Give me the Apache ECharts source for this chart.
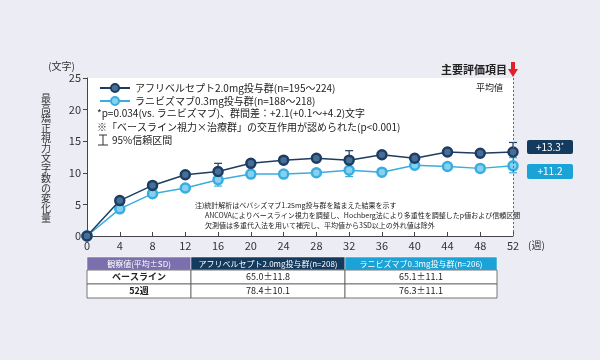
<!DOCTYPE html>
<html><head><meta charset="utf-8">
<script src="https://cdn.jsdelivr.net/npm/echarts@6/dist/echarts.min.js"></script>
<style>html,body{margin:0;padding:0;background:#ececf4;}#c{width:600px;height:360px;}</style>
</head><body><div id="c"></div>
<script>
const weeks = [0,4,8,12,16,20,24,28,32,36,40,44,48,52];
const afliValues = [0,5.6,8.0,9.7,10.2,11.5,12.0,12.3,12.0,12.85,12.3,13.3,13.1,13.3];
const raniValues = [0,4.3,6.7,7.6,8.9,9.8,9.8,10.0,10.4,10.1,11.2,11.0,10.7,11.1];
const afliCI = [[16,10.2,11.5],[32,12.0,13.5],[52,13.3,14.8]];
const raniCI = [[16,7.9,8.9],[32,9.4,10.4],[52,10.0,12.4]];
const afliName = 'アフリベルセプト2.0mg投与群(n=195～224)';
const raniName = 'ラニビズマブ0.3mg投与群(n=188～218)';
const endLabels = ['+13.3', '+11.2'];
const tableHeader = ['観察値(平均±SD)', 'アフリベルセプト2.0mg投与群(n=208)', 'ラニビズマブ0.3mg投与群(n=206)'];
const tableRows = [['ベースライン','65.0±11.8','65.1±11.1'],['52週','78.4±10.1','76.3±11.1']];
const yTitle = '最高矯正視力文字数の変化量';

const FONT = '"Noto Sans CJK JP", "Noto Sans", sans-serif';
const dark = '#1d3c61', light = '#38ade0';

function errRender(color){
  return function(params, api){
    const x = api.value(0), lo = api.value(1), hi = api.value(2);
    const a = api.coord([x, lo]), b = api.coord([x, hi]);
    const w = 4;
    const st = {stroke: color, lineWidth: 1.2};
    return {type:'group', children:[
      {type:'line', shape:{x1:a[0],y1:a[1],x2:b[0],y2:b[1]}, style:st},
      {type:'line', shape:{x1:a[0]-w,y1:a[1],x2:a[0]+w,y2:a[1]}, style:st},
      {type:'line', shape:{x1:b[0]-w,y1:b[1],x2:b[0]+w,y2:b[1]}, style:st}
    ]};
  };
}

const chart = echarts.init(document.getElementById('c'), null, {renderer:'canvas'});

const tX = [87, 191, 345, 497];
const tY = [257, 270, 284, 298];
const hdrColors = ['#7b70ad', '#143a5e', '#1ba3d8'];
const tableG = [];
for (let c=0;c<3;c++){
  tableG.push({type:'rect', shape:{x:tX[c], y:tY[0], width:tX[c+1]-tX[c], height:tY[1]-tY[0]}, style:{fill:hdrColors[c], stroke:'#ffffff', lineWidth:0.5}});
  tableG.push({type:'text', style:{text:tableHeader[c], x:(tX[c]+tX[c+1])/2, y:(tY[0]+tY[1])/2, align:'center', verticalAlign:'middle', fill:'#ffffff', font:'8px '+FONT}});
}
for (let r=0;r<2;r++){
  for (let c=0;c<3;c++){
    tableG.push({type:'rect', shape:{x:tX[c], y:tY[r+1], width:tX[c+1]-tX[c], height:tY[r+2]-tY[r+1]}, style:{fill:'#ffffff', stroke:'#555', lineWidth:0.8}});
    tableG.push({type:'text', style:{text:tableRows[r][c], x:(tX[c]+tX[c+1])/2, y:(tY[r+1]+tY[r+2])/2, align:'center', verticalAlign:'middle', fill:'#222', font:(c===0?'bold ':'')+'9px '+FONT}});
  }
}

const yTitleG = yTitle.split('').map((ch, i) => ({
  type:'text', style:{text: ch, x:46, y: 98 + i*10, align:'center', verticalAlign:'middle', fill:'#333', font:'10px '+FONT}
}));

chart.setOption({
  backgroundColor: '#ececf4',
  animation: false,
  textStyle: {fontFamily: FONT},
  grid: {left: 87, right: 87, top: 78, bottom: 124, show: true, backgroundColor: '#ffffff', borderWidth: 0},
  legend: {
    orient: 'vertical', left: 94, top: 78, itemGap: 3, itemWidth: 30, itemHeight: 10,
    textStyle: {fontSize: 10, color: '#222', fontFamily: FONT},
    data: [afliName, raniName]
  },
  xAxis: {
    type: 'value', min: 0, max: 52, interval: 4,
    axisLine: {lineStyle: {color: '#444'}},
    axisTick: {inside: true, length: 4, lineStyle: {color: '#444'}},
    axisLabel: {color: '#333', fontSize: 11, margin: 4},
    splitLine: {show: false}
  },
  yAxis: {
    type: 'value', min: 0, max: 25, interval: 5,
    axisLine: {show: true, lineStyle: {color: '#444'}},
    axisTick: {show: true, length: 4, lineStyle: {color: '#444'}},
    axisLabel: {color: '#333', fontSize: 11, margin: 6},
    splitLine: {show: false}
  },
  series: [
    {type:'custom', renderItem: errRender(dark), data: afliCI, z: 1, silent: true},
    {type:'custom', renderItem: errRender(light), data: raniCI, z: 1, silent: true},
    {
      name: raniName, type: 'line', data: weeks.map((w,i)=>[w, raniValues[i]]), z: 3,
      lineStyle: {color: light, width: 1.5}, itemStyle: {color: '#86d0f0', borderColor: light, borderWidth: 2.5},
      symbol: 'circle', symbolSize: 9
    },
    {
      name: afliName, type: 'line', data: weeks.map((w,i)=>[w, afliValues[i]]), z: 4,
      lineStyle: {color: dark, width: 1.5}, itemStyle: {color: '#466e96', borderColor: dark, borderWidth: 2.5},
      symbol: 'circle', symbolSize: 9,
      markLine: {
        silent: true, symbol: 'none', label: {show: false},
        lineStyle: {color: '#e0303a', type: [2, 2], width: 1},
        data: [{xAxis: 52}]
      }
    }
  ],
  graphic: [
    {type:'text', style:{text:'(文字)', x:75, y:66, align:'right', verticalAlign:'middle', fill:'#333', font:'10px '+FONT}},
    {type:'text', style:{text:'(週)', x:528, y:245, align:'left', verticalAlign:'middle', fill:'#333', font:'10px '+FONT}},
    {type:'text', style:{text:'*p=0.034(vs. ラニビズマブ)、群間差：+2.1(+0.1～+4.2)文字', x:97, y:113, verticalAlign:'middle', fill:'#222', font:'10px '+FONT}},
    {type:'text', style:{text:'※「ベースライン視力×治療群」の交互作用が認められた(p<0.001)', x:97, y:127, verticalAlign:'middle', fill:'#222', font:'10px '+FONT}},
    {type:'line', shape:{x1:99,y1:135,x2:107,y2:135}, style:{stroke:'#333', lineWidth:1}},
    {type:'line', shape:{x1:103,y1:135,x2:103,y2:145}, style:{stroke:'#333', lineWidth:1}},
    {type:'line', shape:{x1:98,y1:145,x2:108,y2:145}, style:{stroke:'#333', lineWidth:1}},
    {type:'text', style:{text:'95%信頼区間', x:112, y:140, verticalAlign:'middle', fill:'#222', font:'10px '+FONT}},
    {type:'text', style:{text:'注)統計解析はベバシズマブ1.25mg投与群を踏まえた結果を示す', x:195, y:205, verticalAlign:'middle', fill:'#222', font:'7px '+FONT}},
    {type:'text', style:{text:'ANCOVAによりベースライン視力を調整し、Hochberg法により多重性を調整したp値および信頼区間', x:205, y:215, verticalAlign:'middle', fill:'#222', font:'7px '+FONT}},
    {type:'text', style:{text:'欠測値は多重代入法を用いて補完し、平均値から3SD以上の外れ値は除外', x:205, y:225, verticalAlign:'middle', fill:'#222', font:'7px '+FONT}},
    {type:'text', style:{text:'主要評価項目', x:507, y:70, align:'right', verticalAlign:'middle', fill:'#222', font:'bold 11px '+FONT}},
    {type:'rect', shape:{x:511, y:62, width:4, height:8}, style:{fill:'#e0202a'}},
    {type:'polygon', shape:{points:[[508,69],[518,69],[513,77]]}, style:{fill:'#e0202a'}},
    {type:'text', style:{text:'平均値', x:503, y:88, align:'right', verticalAlign:'middle', fill:'#222', font:'9px '+FONT}},
    {type:'rect', shape:{x:527, y:140, width:46, height:14, r:2}, style:{fill:'#143a5e'}},
    {type:'text', style:{text:'{a|'+endLabels[0]+'}{s|*}', x:550, y:147, align:'center', verticalAlign:'middle',
      rich:{a:{fill:'#fff', font:'10px '+FONT}, s:{fill:'#fff', font:'7px '+FONT, verticalAlign:'top', padding:[0,0,4,0]}}}},
    {type:'rect', shape:{x:527, y:164, width:46, height:15, r:2}, style:{fill:'#1ba3d8'}},
    {type:'text', style:{text:endLabels[1], x:550, y:171.5, align:'center', verticalAlign:'middle', fill:'#fff', font:'10px '+FONT}}
  ].concat(tableG, yTitleG)
});
</script>
</body></html>
